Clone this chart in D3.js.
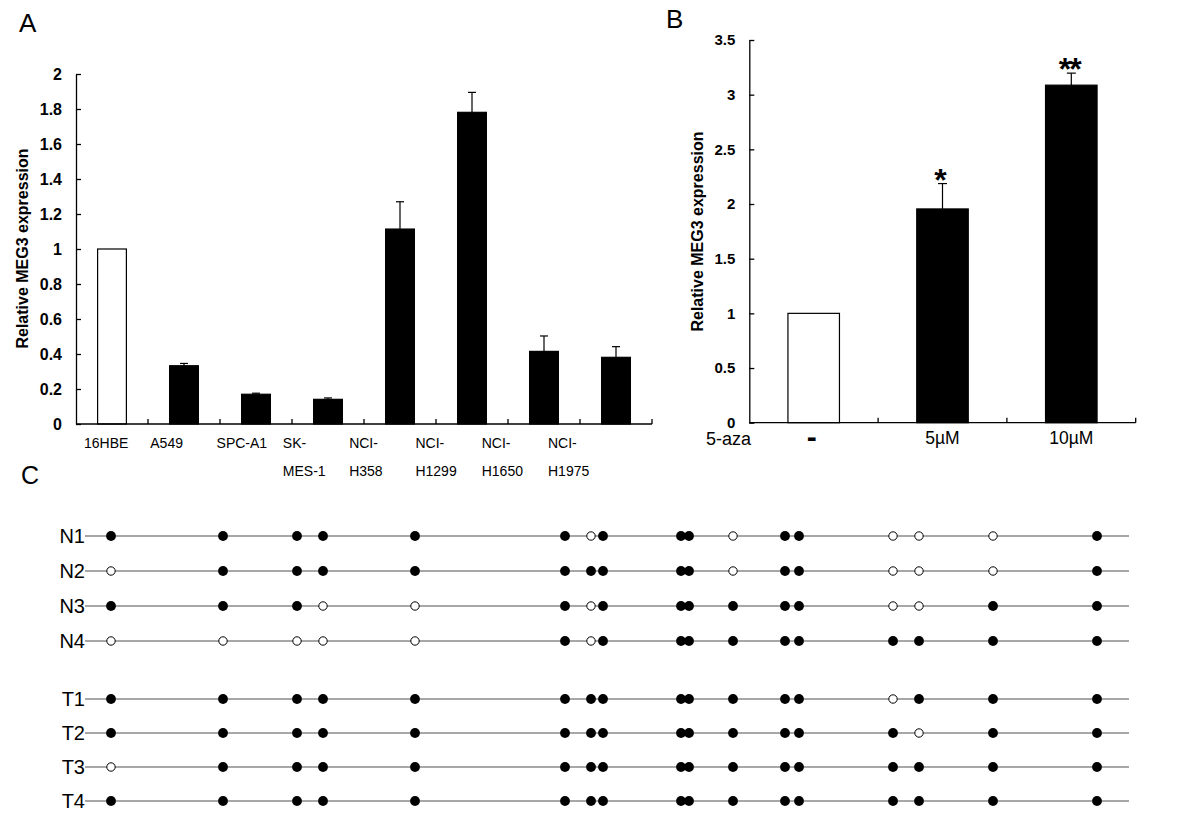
<!DOCTYPE html>
<html><head><meta charset="utf-8">
<script src="https://cdn.jsdelivr.net/npm/d3@7"></script>
<style>
body{margin:0;background:#fff}
svg{display:block}
text{font-family:"Liberation Sans",Arial,Helvetica,sans-serif;fill:#000}
</style>
</head><body>
<svg id="chart" width="1200" height="823"></svg>
<script>
// ---------- Panel A data ----------
const cellLines = ["16HBE","A549","SPC-A1","SK-MES-1","NCI-H358","NCI-H1299","NCI-H1650","NCI-H1975"];
const cellLabelLines = [["16HBE"],["A549"],["SPC-A1"],["SK-","MES-1"],["NCI-","H358"],["NCI-","H1299"],["NCI-","H1650"],["NCI-","H1975"]];
const cellMeans = [1.0, 0.333, 0.170, 0.141, 1.114, 1.781, 0.415, 0.381];
const cellErrors = [0, 0.013, 0.006, 0.008, 0.156, 0.114, 0.088, 0.061];
const cellTicks = [0, 0.2, 0.4, 0.6, 0.8, 1, 1.2, 1.4, 1.6, 1.8, 2];
const cellTickLabels = ["0","0.2","0.4","0.6","0.8","1","1.2","1.4","1.6","1.8","2"];

// ---------- Panel B data ----------
const azaGroups = ["-","5µM","10µM"];
const azaMeans = [1.0, 1.955, 3.087];
const azaErrors = [0, 0.232, 0.110];
const azaSignif = ["", "*", "**"];
const azaTicks = [0, 0.5, 1, 1.5, 2, 2.5, 3, 3.5];
const azaTickLabels = ["0","0.5","1","1.5","2","2.5","3","3.5"];

// ---------- Panel C data ----------
const normalSamples = ["N1","N2","N3","N4"];
const tumorSamples = ["T1","T2","T3","T4"];
const cpgSites = [13, 69, 106, 119, 165, 240, 253, 259, 298, 302, 324, 350, 357, 404, 417, 454, 506];
const regionLength = 522;
const methN1 = [1,1,1,1,1, 1,0,1, 1,1, 0, 1,1, 0,0,0, 1];
const methN2 = [0,1,1,1,1, 1,1,1, 1,1, 0, 1,1, 0,0,0, 1];
const methN3 = [1,1,1,0,0, 1,0,1, 1,1, 1, 1,1, 0,0,1, 1];
const methN4 = [0,0,0,0,0, 1,0,1, 1,1, 1, 1,1, 1,1,1, 1];
const methT1 = [1,1,1,1,1, 1,1,1, 1,1, 1, 1,1, 0,1,1, 1];
const methT2 = [1,1,1,1,1, 1,1,1, 1,1, 1, 1,1, 1,0,1, 1];
const methT3 = [0,1,1,1,1, 1,1,1, 1,1, 1, 1,1, 1,1,1, 1];
const methT4 = [1,1,1,1,1, 1,1,1, 1,1, 1, 1,1, 1,1,1, 1];

const svg = d3.select("#chart");
const AX = 1.3;

function barPanel(g, cfg) {
  const x = d3.scaleBand().domain(cfg.cats).range(cfg.xr).paddingInner(0.6).paddingOuter(0.3);
  const y = d3.scaleLinear().domain(cfg.yd).range(cfg.yr);
  const data = cfg.cats.map((c,i)=>({c, v:cfg.means[i], e:cfg.errs[i], i}));
  const eb = g.append("g");
  data.filter(d=>d.e>0).forEach(d=>{
    const cx = x(d.c)+x.bandwidth()/2;
    eb.append("line").attr("x1",cx).attr("x2",cx).attr("y1",y(d.v)).attr("y2",y(d.v+d.e)).attr("stroke","#000").attr("stroke-width",1.2);
    eb.append("line").attr("x1",cx-cfg.cap).attr("x2",cx+cfg.cap).attr("y1",y(d.v+d.e)).attr("y2",y(d.v+d.e)).attr("stroke","#000").attr("stroke-width",1.2);
  });
  g.selectAll("rect.bar").data(data).join("rect").attr("class","bar")
    .attr("x",d=>x(d.c)).attr("width",x.bandwidth())
    .attr("y",d=>y(d.v)).attr("height",d=>y(0)-y(d.v))
    .attr("fill",d=>d.i===0?"#fff":"#000").attr("stroke","#000").attr("stroke-width",1.2);
  const ya = d3.axisLeft(y).tickValues(cfg.ticks).tickFormat((d,i)=>cfg.tickLabels[i])
    .tickSizeInner(-5).tickSizeOuter(0).tickPadding(cfg.tickPad);
  const yg = g.append("g").attr("transform",`translate(${cfg.xr[0]},0)`).call(ya);
  yg.select(".domain").attr("stroke","#000").attr("stroke-width",AX);
  yg.selectAll(".tick line").attr("stroke","#000").attr("stroke-width",AX);
  yg.selectAll(".tick text").attr("font-size",cfg.tickFont).attr("font-weight","bold")
    .attr("font-family",'"Liberation Sans",Arial,sans-serif').attr("fill","#000");
  g.append("line").attr("x1",cfg.xr[0]).attr("x2",cfg.xr[1]).attr("y1",y(0)).attr("y2",y(0)).attr("stroke","#000").attr("stroke-width",AX);
  const step = x.step();
  cfg.cats.forEach((c,i)=>{
    const bx = x(c)+x.bandwidth()+(step-x.bandwidth())/2;
    g.append("line").attr("x1",bx).attr("x2",bx).attr("y1",y(0)).attr("y2",y(0)-5).attr("stroke","#000").attr("stroke-width",AX);
  });
  g.append("text").attr("transform",`translate(${cfg.titleX},${cfg.titleY}) rotate(-90)`)
    .attr("text-anchor","middle").attr("font-size",16).attr("font-weight","bold").text("Relative MEG3 expression");
  return {x,y};
}

// ---------- Panel A ----------
const gA = svg.append("g");
const A = barPanel(gA, {cats:cellLines, means:cellMeans, errs:cellErrors, xr:[76,652], yd:[0,2], yr:[424,74],
  ticks:cellTicks, tickLabels:cellTickLabels, cap:4, tickPad:14, tickFont:16, titleX:27.5, titleY:248.5});
const labelX = d3.scalePoint().domain(cellLines).range([84,548]);
cellLines.forEach((c,i)=>{
  const t = gA.append("text").attr("font-size",14).attr("text-anchor","start");
  cellLabelLines[i].forEach((ln,j)=>{
    t.append("tspan").attr("x",labelX(c)).attr("y",448+j*28).text(ln);
  });
});
svg.append("text").attr("x",19).attr("y",32).attr("font-size",26).text("A");

// ---------- Panel B ----------
const gB = svg.append("g");
const B = barPanel(gB, {cats:azaGroups, means:azaMeans, errs:azaErrors, xr:[749.3,1135.7], yd:[0,3.5], yr:[422.7,40],
  ticks:azaTicks, tickLabels:azaTickLabels, cap:4.5, tickPad:14, tickFont:15, titleX:702.5, titleY:231.5});
azaGroups.forEach((c,i)=>{
  const cx = B.x(c)+B.x.bandwidth()/2;
  if (i===0) {
    gB.append("text").attr("x",cx-2).attr("y",447).attr("text-anchor","middle").attr("font-size",30).attr("font-weight","bold").text(c);
  } else {
    gB.append("text").attr("x",cx).attr("y",444).attr("text-anchor","middle").attr("font-size",17.5).text(c);
  }
  if (azaSignif[i]) {
    gB.append("text").attr("x",cx-2).attr("y",B.y(azaMeans[i]+azaErrors[i])+7).attr("text-anchor","middle")
      .attr("font-size",32).attr("font-weight","bold").attr("letter-spacing",i===2?-2:0).text(azaSignif[i]);
  }
});
gB.append("text").attr("x",751).attr("y",445).attr("text-anchor","end").attr("font-size",18).text("5-aza");
svg.append("text").attr("x",666).attr("y",28).attr("font-size",26).text("B");

// ---------- Panel C ----------
const gC = svg.append("g");
svg.append("text").attr("x",21).attr("y",484).attr("font-size",25).text("C");
const xC = d3.scaleLinear().domain([0,regionLength]).range([85,1129]);
const yN = d3.scalePoint().domain(normalSamples).range([536,641]);
const yT = d3.scalePoint().domain(tumorSamples).range([699,801]);
const methRows = [methN1,methN2,methN3,methN4,methT1,methT2,methT3,methT4];
const samples = normalSamples.concat(tumorSamples);
samples.forEach((s,i)=>{
  const yy = i<4 ? yN(s) : yT(s);
  gC.append("line").attr("x1",xC(0)).attr("x2",xC(regionLength)).attr("y1",yy).attr("y2",yy)
    .attr("stroke","#8a8a8a").attr("stroke-width",1.4);
  gC.append("text").attr("x",85).attr("y",yy+7).attr("text-anchor","end").attr("font-size",20).text(s);
  gC.selectAll(null).data(cpgSites.map((p,k)=>({p,m:methRows[i][k]}))).join("circle")
    .attr("cx",d=>xC(d.p)).attr("cy",yy)
    .attr("r",d=>d.m?4.9:4.2)
    .attr("fill",d=>d.m?"#000":"#fff")
    .attr("stroke","#000").attr("stroke-width",d=>d.m?0:1);
});
</script>
</body></html>
